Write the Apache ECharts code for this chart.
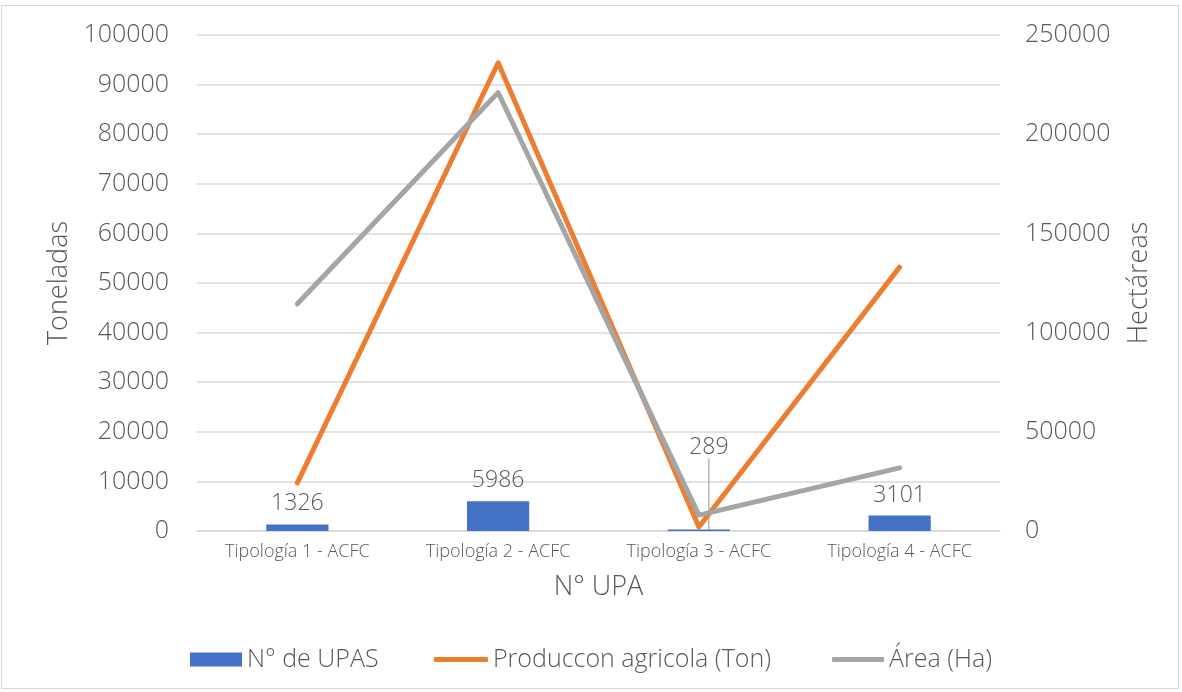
<!DOCTYPE html>
<html>
<head>
<meta charset="utf-8">
<script src="https://cdn.jsdelivr.net/npm/echarts@6/dist/echarts.min.js"></script>
<style>
  html, body { margin: 0; padding: 0; background: #fff; }
  #frame { position: absolute; left: 1px; top: 5px; width: 1178px; height: 684px; border: 1px solid #d9d9d9; box-sizing: border-box; }
  #chart { position: absolute; left: 0; top: 0; width: 1182px; height: 692px; }
</style>
</head>
<body>
<div id="frame"></div>
<div id="chart"></div>
<script>
// Categories and series
const categories = ['Tipología 1 - ACFC', 'Tipología 2 - ACFC', 'Tipología 3 - ACFC', 'Tipología 4 - ACFC'];
const upas = [1326, 5986, 289, 3101];
const produccion = [9700, 94400, 800, 53200];
const area = [114500, 221000, 8000, 31800];

const FONT = '"Open Sans", sans-serif';
const TXT = '#595959';
const plain = v => String(v);

const legendText = { fontSize: 25, color: TXT, fontFamily: FONT, fontWeight: 300 };

const chart = echarts.init(document.getElementById('chart'));
chart.setOption({
  animation: false,
  textStyle: { fontFamily: FONT, color: TXT, fontWeight: 300 },
  grid: { left: 197, right: 182, top: 35, bottom: 161 },
  legend: [
    {
      left: 190, top: 647, padding: 0, itemWidth: 52, itemHeight: 14,
      textStyle: legendText,
      data: [{ name: 'N° de UPAS', icon: 'rect' }]
    },
    {
      left: 434, top: 647, padding: 0, itemWidth: 54, itemHeight: 5,
      textStyle: legendText,
      data: [{ name: 'Produccon agricola (Ton)', icon: 'roundRect' }]
    },
    {
      left: 832, top: 647, padding: 0, itemWidth: 52, itemHeight: 5,
      textStyle: legendText,
      data: [{ name: 'Área (Ha)', icon: 'roundRect' }]
    }
  ],
  xAxis: {
    type: 'category',
    data: categories,
    name: 'N° UPA',
    nameLocation: 'middle',
    nameGap: 43,
    nameTextStyle: { fontSize: 27, color: TXT, fontWeight: 300 },
    axisLine: { lineStyle: { color: '#d9d9d9', width: 1.5 } },
    axisTick: { show: false },
    axisLabel: { fontSize: 18, color: TXT, margin: 12, fontWeight: 300 }
  },
  yAxis: [
    {
      type: 'value',
      min: 0, max: 100000, interval: 10000,
      name: 'Toneladas',
      nameLocation: 'middle',
      nameGap: 124,
      nameTextStyle: { fontSize: 27, color: TXT, fontWeight: 300 },
      axisLabel: { fontSize: 25, color: TXT, margin: 28, fontWeight: 300, formatter: plain },
      splitLine: { lineStyle: { color: '#d9d9d9', width: 1.5 } },
      axisLine: { show: false },
      axisTick: { show: false }
    },
    {
      type: 'value',
      min: 0, max: 250000, interval: 50000,
      name: 'Hectáreas',
      nameLocation: 'middle',
      nameGap: 126,
      nameRotate: 90,
      nameTextStyle: { fontSize: 27, color: TXT, fontWeight: 300 },
      axisLabel: { fontSize: 25, color: TXT, margin: 25, fontWeight: 300, formatter: plain },
      splitLine: { show: false },
      axisLine: { show: false },
      axisTick: { show: false }
    }
  ],
  series: [
    {
      name: 'N° de UPAS',
      type: 'bar',
      data: upas.map((v, i) => i === 2 ? { value: v, labelLine: { show: true } } : v),
      barWidth: '31%',
      itemStyle: { color: '#4472c4' },
      label: {
        show: true, position: 'top', distance: 9,
        fontSize: 23, color: TXT, fontWeight: 300
      },
      // the smallest bar's label is lifted above the lines, with a leader
      labelLayout: p => p.dataIndex === 2 ? { dx: 10, dy: -62 } : {},
      labelLine: { lineStyle: { color: '#a5a5a5', width: 1.2 } },
      z: 1
    },
    {
      name: 'Produccon agricola (Ton)',
      type: 'line',
      data: produccion,
      yAxisIndex: 0,
      symbol: 'none',
      lineStyle: { color: '#ed7d31', width: 5, cap: 'round', join: 'round' },
      itemStyle: { color: '#ed7d31' },
      z: 3
    },
    {
      name: 'Área (Ha)',
      type: 'line',
      data: area,
      yAxisIndex: 1,
      symbol: 'none',
      lineStyle: { color: '#a5a5a5', width: 5, cap: 'round', join: 'round' },
      itemStyle: { color: '#a5a5a5' },
      z: 4
    }
  ]
});
</script>
</body>
</html>
